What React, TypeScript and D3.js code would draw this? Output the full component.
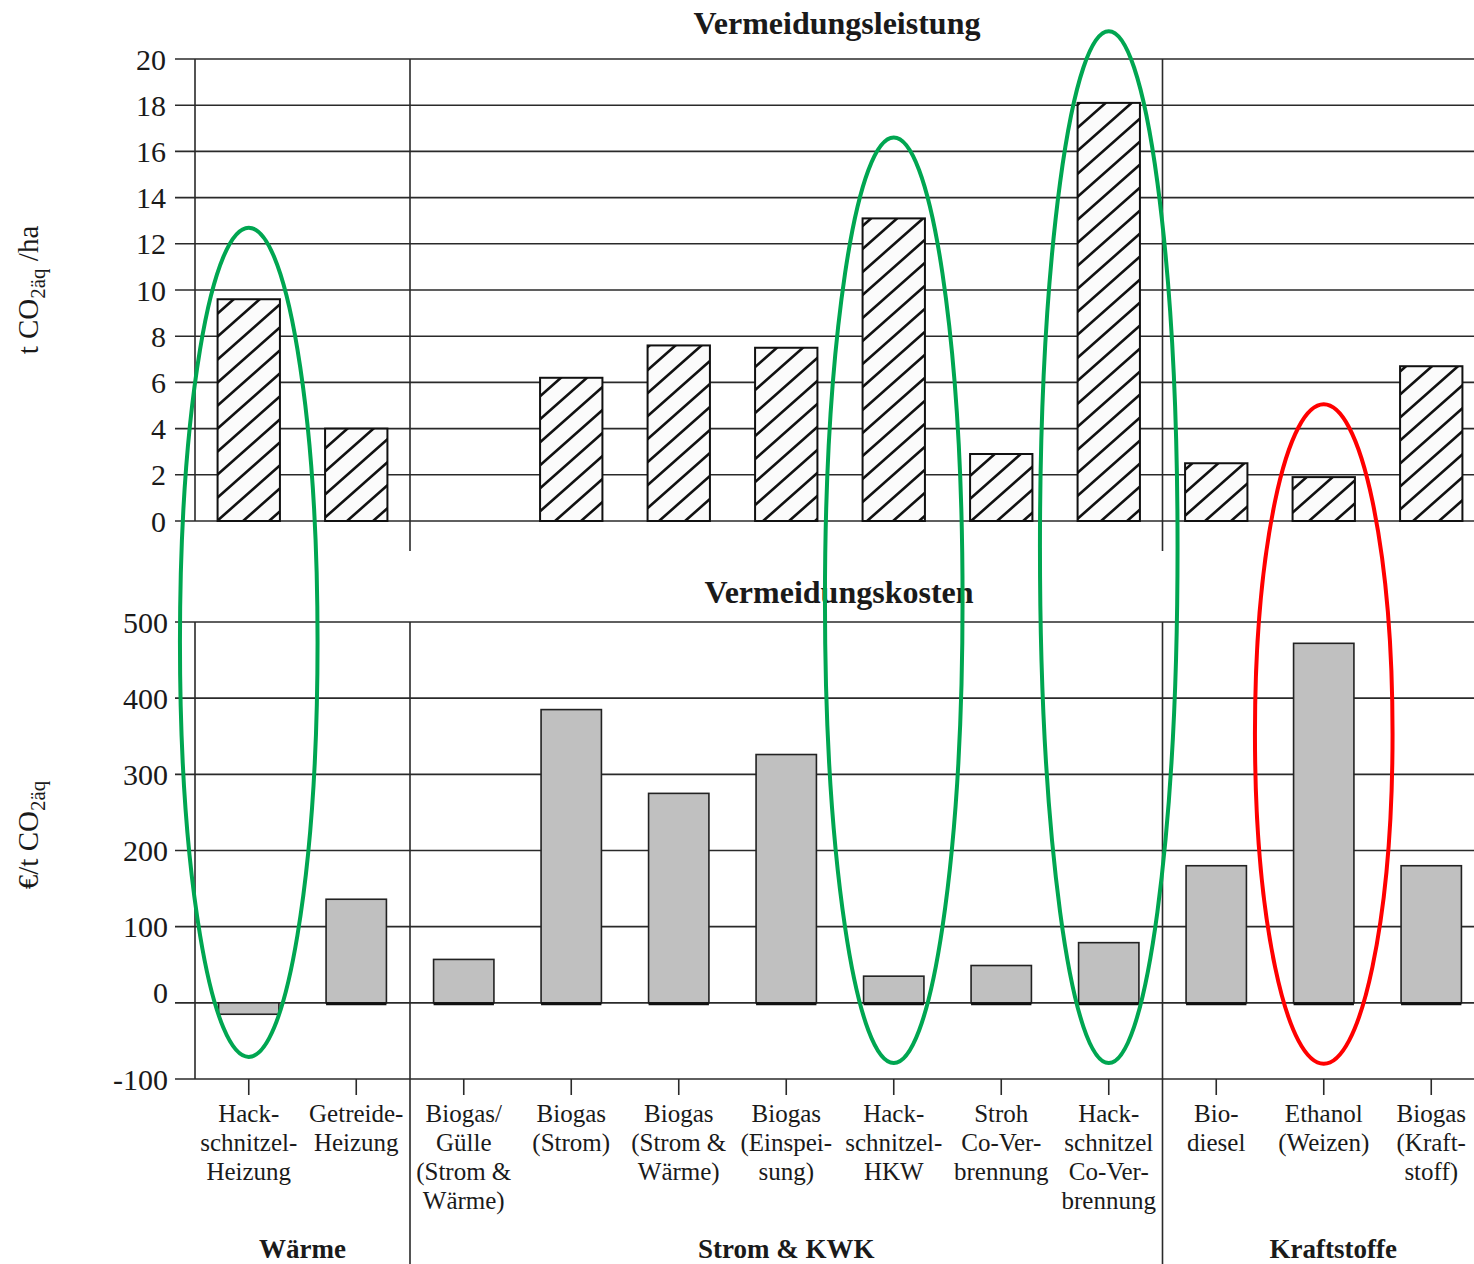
import React from "react";
import * as d3 from "d3";

// ---------- data ----------
const categories = [
  "Hackschnitzel-Heizung",
  "Getreide-Heizung",
  "Biogas/Gülle (Strom & Wärme)",
  "Biogas (Strom)",
  "Biogas (Strom & Wärme)",
  "Biogas (Einspeisung)",
  "Hackschnitzel-HKW",
  "Stroh Co-Verbrennung",
  "Hackschnitzel Co-Verbrennung",
  "Biodiesel",
  "Ethanol (Weizen)",
  "Biogas (Kraftstoff)",
];
const categoryLabelLines = [
  ["Hack-", "schnitzel-", "Heizung"],
  ["Getreide-", "Heizung"],
  ["Biogas/", "Gülle", "(Strom &", "Wärme)"],
  ["Biogas", "(Strom)"],
  ["Biogas", "(Strom &", "Wärme)"],
  ["Biogas", "(Einspei-", "sung)"],
  ["Hack-", "schnitzel-", "HKW"],
  ["Stroh", "Co-Ver-", "brennung"],
  ["Hack-", "schnitzel", "Co-Ver-", "brennung"],
  ["Bio-", "diesel"],
  ["Ethanol", "(Weizen)"],
  ["Biogas", "(Kraft-", "stoff)"],
];
// Vermeidungsleistung, t CO2äq/ha (null = no bar)
const leistung: (number | null)[] = [9.6, 4.0, null, 6.2, 7.6, 7.5, 13.1, 2.9, 18.1, 2.5, 1.9, 6.7];
// Vermeidungskosten, €/t CO2äq
const kosten = [-15, 136, 57, 385, 275, 326, 35, 49, 79, 180, 472, 180];

const groupNames = ["Wärme", "Strom & KWK", "Kraftstoffe"];
const groupSizes = [2, 7, 3];

const topTicks = [0, 2, 4, 6, 8, 10, 12, 14, 16, 18, 20];
const bottomTicks = [-100, 0, 100, 200, 300, 400, 500];

// highlight ellipses (category, top extent in upper-axis units, bottom extent in lower-axis units)
const ellipseCats = [
  "Hackschnitzel-Heizung",
  "Hackschnitzel-HKW",
  "Hackschnitzel Co-Verbrennung",
  "Ethanol (Weizen)",
];
const ellipseTop = [12.7, 16.6, 21.2, 5.05];
const ellipseBottom = [-71, -79, -79, -80];
const ellipseColors = ["#00a651", "#00a651", "#00a651", "#ff0000"];

// ---------- layout ----------
const W = 1474;
const H = 1264;
const FONT = '"Liberation Serif", "Times New Roman", serif';
const INK = "#1a1a1a";

export default function App() {
  const x = d3
    .scaleBand<string>()
    .domain(categories)
    .range([195, 1485])
    .paddingInner(0.42)
    .paddingOuter(0.21);
  const yTop = d3.scaleLinear().domain([0, 20]).range([521, 59]);
  const yBot = d3.scaleLinear().domain([-100, 500]).range([1079, 622]);

  const axisX = 195;
  const gridStart = 175;
  const step = x.step();
  const bw = x.bandwidth();
  const bandStart = (i: number) => (x(categories[i]) as number) - (step - bw) / 2;

  // group boundaries
  const groupBounds: { start: number; end: number; name: string }[] = [];
  let idx = 0;
  groupSizes.forEach((n, gi) => {
    const start = bandStart(idx);
    const end = start + n * step;
    groupBounds.push({ start, end, name: groupNames[gi] });
    idx += n;
  });
  const separators = groupBounds.slice(1).map((g) => g.start);

  const gridColor = "#2a2a2a";

  return (
    <svg
      width={W}
      height={H}
      viewBox={`0 0 ${W} ${H}`}
      style={{ position: "absolute", left: 0, top: 0, background: "#fff" }}
      fontFamily={FONT}
    >
      <defs>
        <pattern id="hatch" patternUnits="userSpaceOnUse" width={26} height={23}>
          <rect width={26} height={23} fill="#fbfbfb" />
          <path
            d="M0,23 L26,0 M-6.5,5.75 L6.5,-5.75 M19.5,28.75 L32.5,17.25"
            stroke="#111"
            strokeWidth={2.6}
          />
        </pattern>
      </defs>
      <rect width={W} height={H} fill="#fff" />

      {/* ---------- top panel ---------- */}
      <text x={837} y={34} textAnchor="middle" fontSize={32} fontWeight="bold" fill={INK}>
        Vermeidungsleistung
      </text>
      {topTicks.map((t) => (
        <g key={"tt" + t}>
          <line x1={gridStart} x2={W} y1={yTop(t)} y2={yTop(t)} stroke={gridColor} strokeWidth={1.6} />
          <text x={166} y={yTop(t)} dy="0.35em" textAnchor="end" fontSize={30} fill={INK}>
            {t}
          </text>
        </g>
      ))}
      <line x1={axisX} x2={axisX} y1={yTop(20)} y2={yTop(0)} stroke={gridColor} strokeWidth={1.6} />
      {separators.map((s, i) => (
        <line key={"ts" + i} x1={s} x2={s} y1={yTop(20)} y2={551} stroke={gridColor} strokeWidth={1.6} />
      ))}
      {categories.map((c, i) => {
        const v = leistung[i];
        if (v === null || v === undefined) return null;
        return (
          <rect
            key={"tb" + c}
            x={x(c)}
            y={yTop(v)}
            width={bw}
            height={yTop(0) - yTop(v)}
            fill="url(#hatch)"
            stroke="#111"
            strokeWidth={2}
          />
        );
      })}
      <text
        transform={`translate(38,290) rotate(-90)`}
        textAnchor="middle"
        fontSize={29}
        fill={INK}
      >
        t CO
        <tspan fontSize={21} dy={7}>
          2äq
        </tspan>
        <tspan dy={-7}> /ha</tspan>
      </text>

      {/* ---------- bottom panel ---------- */}
      <text x={839} y={603} textAnchor="middle" fontSize={32} fontWeight="bold" fill={INK}>
        Vermeidungskosten
      </text>
      {bottomTicks.map((t) => (
        <g key={"bt" + t}>
          <line x1={gridStart} x2={W} y1={yBot(t)} y2={yBot(t)} stroke={gridColor} strokeWidth={1.6} />
          <text x={168} y={yBot(t) - (t === 0 ? 10 : 0)} dy="0.35em" textAnchor="end" fontSize={30} fill={INK}>
            {t}
          </text>
        </g>
      ))}
      <line x1={axisX} x2={axisX} y1={yBot(500)} y2={yBot(-100)} stroke={gridColor} strokeWidth={1.6} />
      {separators.map((s, i) => (
        <line key={"bs" + i} x1={s} x2={s} y1={yBot(500)} y2={H} stroke={gridColor} strokeWidth={1.6} />
      ))}
      {categories.map((c, i) => {
        const v = kosten[i];
        const y0 = yBot(0);
        const y1 = yBot(v);
        const bx = (x(c) as number) + 1;
        const w = bw - 2;
        return (
          <g key={"bb" + c}>
            <rect
              x={bx}
              y={Math.min(y0, y1)}
              width={w}
              height={Math.abs(y1 - y0)}
              fill="#c0c0c0"
              stroke="#222"
              strokeWidth={1.6}
            />
            {v > 0 && <line x1={bx} x2={bx + w} y1={y0 + 1} y2={y0 + 1} stroke="#111" strokeWidth={3} />}
          </g>
        );
      })}
      {/* x ticks */}
      {categories.map((c) => {
        const cx = (x(c) as number) + bw / 2;
        return (
          <line key={"xt" + c} x1={cx} x2={cx} y1={yBot(-100)} y2={yBot(-100) + 16} stroke={gridColor} strokeWidth={1.6} />
        );
      })}
      {/* category labels */}
      {categories.map((c, i) => {
        const cx = (x(c) as number) + bw / 2;
        return (
          <text key={"xl" + c} x={cx} y={1122} textAnchor="middle" fontSize={25} fill={INK}>
            {categoryLabelLines[i].map((ln, j) => (
              <tspan key={j} x={cx} dy={j === 0 ? 0 : 29}>
                {ln}
              </tspan>
            ))}
          </text>
        );
      })}
      {/* group labels */}
      {groupBounds.map((g, gi) => (
        <text
          key={"g" + g.name}
          x={gi === groupBounds.length - 1 ? (g.start + W + 30) / 2 : (g.start + g.end) / 2}
          y={1258}
          textAnchor="middle"
          fontSize={27}
          fontWeight="bold"
          fill={INK}
        >
          {g.name}
        </text>
      ))}
      <text
        transform={`translate(38,835) rotate(-90)`}
        textAnchor="middle"
        fontSize={29}
        fill={INK}
      >
        €/t CO
        <tspan fontSize={21} dy={7}>
          2äq
        </tspan>
      </text>

      {/* ---------- highlight ellipses ---------- */}
      {ellipseCats.map((c, i) => {
        const cx = (x(c) as number) + bw / 2;
        const top = yTop(ellipseTop[i]);
        const bottom = yBot(ellipseBottom[i]);
        return (
          <ellipse
            key={"el" + c}
            cx={cx}
            cy={(top + bottom) / 2}
            rx={step * 0.64}
            ry={(bottom - top) / 2}
            fill="none"
            stroke={ellipseColors[i]}
            strokeWidth={4}
          />
        );
      })}
    </svg>
  );
}
